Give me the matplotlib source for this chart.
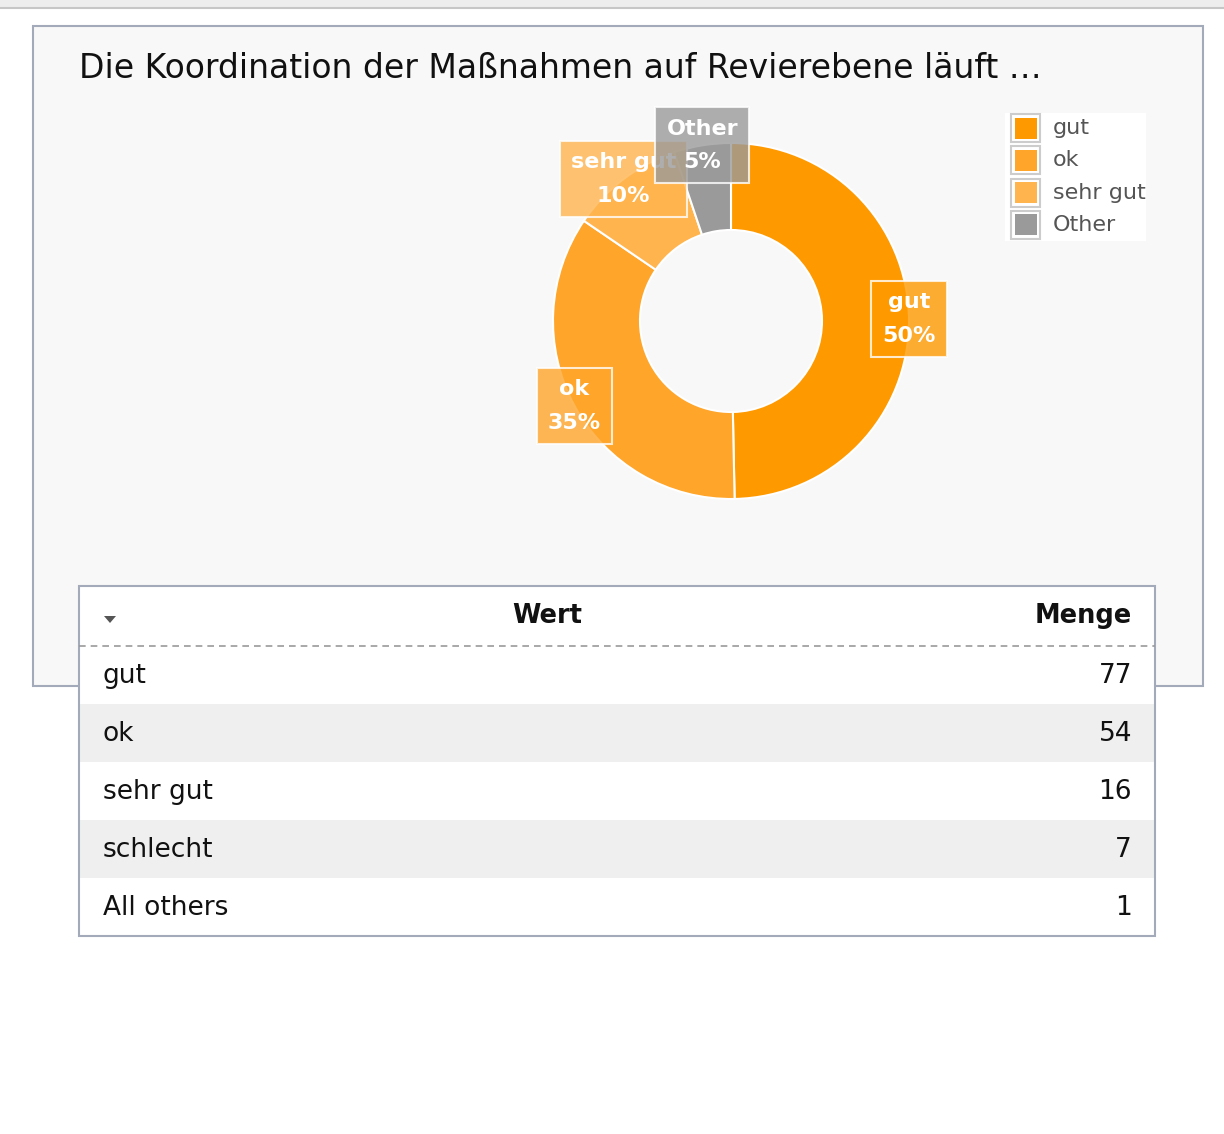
import matplotlib.pyplot as plt
from matplotlib.patches import Rectangle, Polygon
import numpy as np

# Daten
pie_labels = ["gut", "ok", "sehr gut", "Other"]
pie_values = [77, 54, 16, 8]
pie_colors = ["#ff9900", "#ffa52a", "#ffb44e", "#9a9a9a"]

table_labels = ["gut", "ok", "sehr gut", "schlecht", "All others"]
table_values = [77, 54, 16, 7, 1]

title = "Die Koordination der Maßnahmen auf Revierebene läuft …"

W, H = 1224, 1134
fig = plt.figure(figsize=(W / 100, H / 100), dpi=100)
plt.rcParams['font.family'] = ['DejaVu Sans']

# Hintergrund-Achse in Pixeln
bg = fig.add_axes([0, 0, 1, 1], zorder=0)
bg.set_xlim(0, W)
bg.set_ylim(H, 0)
bg.axis("off")

border = "#a3aaba"
bg.add_patch(Rectangle((0, 0), W, 8, color="#ededed", lw=0))
bg.plot([0, W], [8, 8], color="#c6c6c6", lw=1.5)
bg.add_patch(Rectangle((33, 26), 1170, 660, facecolor="#f8f8f8", edgecolor=border, lw=1.5))
bg.text(79, 68, title, fontsize=23.8, color="#111111", va="center", ha="left")

# Donut
cx, cy, R, r_in = 731, 321, 178, 91
pax = fig.add_axes([(cx - 200) / W, (H - cy - 200) / H, 400 / W, 400 / H], zorder=1)
wedges, _ = pax.pie(pie_values, radius=R, startangle=90, counterclock=False,
                    colors=pie_colors,
                    wedgeprops=dict(width=R - r_in, edgecolor="white", linewidth=1.5))
pax.set_xlim(-200, 200)
pax.set_ylim(-200, 200)
pax.axis("off")

total = sum(pie_values)
for w, lbl, val, col in zip(wedges, pie_labels, pie_values, pie_colors):
    ang = np.deg2rad((w.theta1 + w.theta2) / 2)
    x, y = R * np.cos(ang), R * np.sin(ang)
    pax.text(x, y, f"{lbl}\n{round(val / total * 100)}%", ha="center", va="center",
             fontsize=16, fontweight="bold", color="white", linespacing=1.85,
             bbox=dict(boxstyle="square,pad=0.5", facecolor=col, alpha=0.8,
                       edgecolor="white", linewidth=1.5), zorder=5, clip_on=False)

# Legende
bg.add_patch(Rectangle((1005, 113), 141, 128, facecolor="white", lw=0))
for i, (lbl, col) in enumerate(zip(pie_labels, pie_colors)):
    yc = 128 + i * 32.3
    bg.add_patch(Rectangle((1011, yc - 14), 29, 28, facecolor="white", edgecolor="#cccccc", lw=1.5))
    bg.add_patch(Rectangle((1014.5, yc - 10.5), 22, 21, facecolor=col, lw=0))
    bg.text(1053, yc, lbl, fontsize=16, color="#555555", va="center", ha="left")

# Tabelle
tx0, tx1, ty0 = 79, 1155, 586
head_h, row_h = 60, 58
n = len(table_labels)
ty1 = ty0 + head_h + n * row_h
bg.add_patch(Rectangle((tx0, ty0), tx1 - tx0, ty1 - ty0, facecolor="white", edgecolor="none"))
for i, (lbl, val) in enumerate(zip(table_labels, table_values)):
    y0 = ty0 + head_h + i * row_h
    if i % 2 == 1:
        bg.add_patch(Rectangle((tx0, y0), tx1 - tx0, row_h, facecolor="#efefef", lw=0))
    bg.text(103, y0 + row_h / 2 + 1, lbl, fontsize=19, color="#111111", va="center", ha="left")
    bg.text(1132, y0 + row_h / 2 + 1, str(val), fontsize=19, color="#111111", va="center", ha="right")
bg.add_patch(Rectangle((tx0, ty0), tx1 - tx0, ty1 - ty0, facecolor="none", edgecolor=border, lw=1.5))
bg.plot([tx0, tx1], [ty0 + head_h, ty0 + head_h], color="#9a9a9a", lw=1.2, ls=(0, (4, 3)))
bg.text(547, ty0 + 30, "Wert", fontsize=18.5, fontweight="bold", color="#111111", va="center", ha="center")
bg.text(1132, ty0 + 30, "Menge", fontsize=18.5, fontweight="bold", color="#111111", va="center", ha="right")
bg.add_patch(Polygon([(104, 616), (116, 616), (110, 623)], closed=True, facecolor="#555555", lw=0))

fig.savefig("out.png", dpi=100)
